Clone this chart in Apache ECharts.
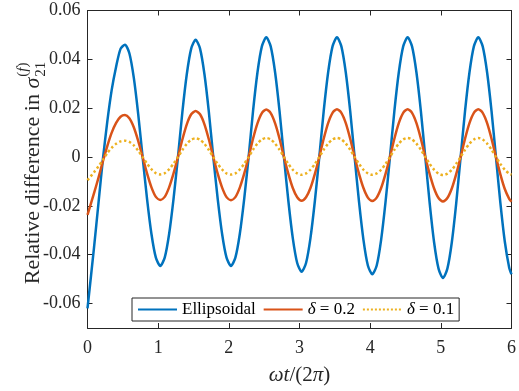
<!DOCTYPE html>
<html>
<head>
<meta charset="utf-8">
<script src="https://cdn.jsdelivr.net/npm/echarts@6/dist/echarts.min.js"></script>
<style>
  html, body { margin: 0; padding: 0; background: #ffffff; }
  #chart { width: 519px; height: 391px; }
</style>
</head>
<body>
<div id="chart"></div>
<script>
// Time in periods, omega t / (2 pi)
const timePoints = [
  0, 0.0925, 0.155, 0.2175, 0.28, 0.3425, 0.405, 0.4675, 0.53, 0.5925, 0.655, 0.7175, 0.78, 0.8425, 0.905, 0.9675,
  1.03, 1.0925, 1.155, 1.2175, 1.28, 1.3425, 1.405, 1.4675, 1.53, 1.5925, 1.655, 1.7175, 1.78, 1.8425, 1.905, 1.9675,
  2.03, 2.0925, 2.155, 2.2175, 2.28, 2.3425, 2.405, 2.4675, 2.53, 2.5925, 2.655, 2.7175, 2.78, 2.8425, 2.905, 2.9675,
  3.03, 3.0925, 3.155, 3.2175, 3.28, 3.3425, 3.405, 3.4675, 3.53, 3.5925, 3.655, 3.7175, 3.78, 3.8425, 3.905, 3.9675,
  4.03, 4.0925, 4.155, 4.2175, 4.28, 4.3425, 4.405, 4.4675, 4.53, 4.5925, 4.655, 4.7175, 4.78, 4.8425, 4.905, 4.9675,
  5.03, 5.0925, 5.155, 5.2175, 5.28, 5.3425, 5.405, 5.4675, 5.53, 5.5925, 5.655, 5.7175, 5.78, 5.8425, 5.905, 5.9675,
  6.0
];

// Relative difference, ellipsoidal model
const ellipsoidal = [
  -0.062, -0.037, -0.019, -0.001, 0.0145, 0.0275, 0.037, 0.0443, 0.046, 0.0425, 0.0325, 0.0176, 0, -0.0171, -0.0315, -0.0412,
  -0.0446, -0.0412, -0.0315, -0.0171, 0, 0.0184, 0.0339, 0.0444, 0.048, 0.0444, 0.0339, 0.0184, 0, -0.0171, -0.0315, -0.0412,
  -0.0446, -0.0412, -0.0315, -0.0171, 0, 0.0188, 0.0346, 0.0453, 0.049, 0.0453, 0.0346, 0.0188, 0, -0.0180, -0.0332, -0.0434,
  -0.047, -0.0434, -0.0332, -0.0180, 0, 0.0188, 0.0346, 0.0453, 0.049, 0.0453, 0.0346, 0.0188, 0, -0.0184, -0.0339, -0.0444,
  -0.048, -0.0444, -0.0339, -0.0184, 0, 0.0188, 0.0346, 0.0453, 0.049, 0.0453, 0.0346, 0.0188, 0, -0.0190, -0.0350, -0.0457,
  -0.0495, -0.0457, -0.0350, -0.0190, 0, 0.0188, 0.0346, 0.0453, 0.049, 0.0453, 0.0346, 0.0188, 0, -0.0188, -0.0346, -0.0453,
  -0.048
];

// Relative difference, delta = 0.2
const delta02 = [
  -0.0237, -0.0148, -0.0085, -0.0018, 0.0045, 0.0100, 0.0140, 0.0165, 0.0172, 0.0159, 0.0122, 0.0066, 0, -0.0067, -0.0124, -0.0163,
  -0.0176, -0.0163, -0.0124, -0.0067, 0, 0.0072, 0.0134, 0.0175, 0.0189, 0.0175, 0.0134, 0.0072, 0, -0.0068, -0.0125, -0.0164,
  -0.0177, -0.0164, -0.0125, -0.0068, 0, 0.0075, 0.0138, 0.0180, 0.0195, 0.0180, 0.0138, 0.0075, 0, -0.0069, -0.0127, -0.0165,
  -0.0179, -0.0165, -0.0127, -0.0069, 0, 0.0075, 0.0139, 0.0181, 0.0196, 0.0181, 0.0139, 0.0075, 0, -0.0069, -0.0127, -0.0166,
  -0.0180, -0.0166, -0.0127, -0.0069, 0, 0.0075, 0.0139, 0.0181, 0.0196, 0.0181, 0.0139, 0.0075, 0, -0.0070, -0.0129, -0.0168,
  -0.0182, -0.0168, -0.0129, -0.0070, 0, 0.0075, 0.0139, 0.0181, 0.0196, 0.0181, 0.0139, 0.0075, 0, -0.0071, -0.0131, -0.0171,
  -0.0183
];

// Relative difference, delta = 0.1
const delta01 = [
  -0.0095, -0.0062, -0.0038, -0.0012, 0.0016, 0.0038, 0.0054, 0.0064, 0.0067, 0.0062, 0.0048, 0.0026, 0, -0.0027, -0.0050, -0.0066,
  -0.0071, -0.0066, -0.0050, -0.0027, 0, 0.0029, 0.0054, 0.0071, 0.0077, 0.0071, 0.0054, 0.0029, 0, -0.0028, -0.0051, -0.0067,
  -0.0072, -0.0067, -0.0051, -0.0028, 0, 0.0030, 0.0055, 0.0072, 0.0078, 0.0072, 0.0055, 0.0030, 0, -0.0028, -0.0052, -0.0067,
  -0.0073, -0.0067, -0.0052, -0.0028, 0, 0.0030, 0.0055, 0.0072, 0.0078, 0.0072, 0.0055, 0.0030, 0, -0.0028, -0.0052, -0.0067,
  -0.0073, -0.0067, -0.0052, -0.0028, 0, 0.0030, 0.0055, 0.0072, 0.0078, 0.0072, 0.0055, 0.0030, 0, -0.0028, -0.0052, -0.0068,
  -0.0074, -0.0068, -0.0052, -0.0028, 0, 0.0030, 0.0055, 0.0072, 0.0078, 0.0072, 0.0055, 0.0030, 0, -0.0028, -0.0052, -0.0068,
  -0.0072
];

const seriesNames = ['Ellipsoidal', 'δ = 0.2', 'δ = 0.1'];
const yTickValues = [-0.06, -0.04, -0.02, 0, 0.02, 0.04, 0.06];
const xMin = 0, xMax = 6, xStep = 1;
const yMin = -0.07, yMax = 0.06, yStep = 0.01;

const SERIF = '"Liberation Serif", "DejaVu Serif", serif';
const AXIS_COLOR = '#262626';
const colors = ['#0072BD', '#D95319', '#EDB120'];

const chart = echarts.init(document.getElementById('chart'), null, { renderer: 'canvas' });

function pairs(values) {
  return timePoints.map((t, i) => [t, values[i]]);
}

function fmtY(v) {
  if (Math.abs(v) < 1e-12) return '0';
  return v.toFixed(2);
}

// Y axis title, composed of pieces so that sub/superscripts sit correctly
const measureCtx = document.createElement('canvas').getContext('2d');
function textWidth(text, font) {
  measureCtx.font = font;
  return measureCtx.measureText(text).width;
}
const titleSize = 22;
const scriptSize = 15;
const mainText = 'Relative difference in ';
const wMain = textWidth(mainText, titleSize + 'px ' + SERIF);
const wSigma = textWidth('σ', 'italic ' + titleSize + 'px ' + SERIF);
const wSup = textWidth('(f)', scriptSize + 'px ' + SERIF);
const wSub = textWidth('21', scriptSize + 'px ' + SERIF);
const totalTitle = wMain + wSigma + Math.max(wSup, wSub) + 1;
const x0 = -totalTitle / 2;

const option = {
  animation: false,
  backgroundColor: '#ffffff',
  color: colors,
  grid: { left: 87.5, right: 1.5, top: 10.5, bottom: 59, containLabel: false },
  xAxis: [
    {
      type: 'value', min: xMin, max: xMax, interval: xStep, position: 'bottom',
      axisLine: { show: true, onZero: false, lineStyle: { color: AXIS_COLOR, width: 1 } },
      axisTick: { show: true, inside: true, length: 5, lineStyle: { color: AXIS_COLOR, width: 1 } },
      axisLabel: { show: true, margin: 11, fontFamily: SERIF, fontSize: 18, color: AXIS_COLOR,
                   formatter: v => String(v) },
      splitLine: { show: false },
      name: '{i|ω}{i|t}/(2{i|π})',
      nameLocation: 'middle',
      nameGap: 37,
      nameTextStyle: {
        fontFamily: SERIF, fontSize: 21, color: AXIS_COLOR,
        rich: { i: { fontFamily: SERIF, fontSize: 21, fontStyle: 'italic', color: AXIS_COLOR } }
      }
    },
    {
      type: 'value', min: xMin, max: xMax, interval: xStep, position: 'top',
      axisLine: { show: true, onZero: false, lineStyle: { color: AXIS_COLOR, width: 1 } },
      axisTick: { show: true, inside: true, length: 5, lineStyle: { color: AXIS_COLOR, width: 1 } },
      axisLabel: { show: false },
      splitLine: { show: false }
    }
  ],
  yAxis: [
    {
      type: 'value', min: yMin, max: yMax, interval: yStep, position: 'left',
      axisLine: { show: true, onZero: false, lineStyle: { color: AXIS_COLOR, width: 1 } },
      axisTick: { show: true, inside: true, length: 5, customValues: yTickValues,
                  lineStyle: { color: AXIS_COLOR, width: 1 } },
      axisLabel: { show: true, margin: 7, fontFamily: SERIF, fontSize: 18, color: AXIS_COLOR,
                   customValues: yTickValues, formatter: fmtY },
      splitLine: { show: false }
    },
    {
      type: 'value', min: yMin, max: yMax, interval: yStep, position: 'right',
      axisLine: { show: true, onZero: false, lineStyle: { color: AXIS_COLOR, width: 1 } },
      axisTick: { show: true, inside: true, length: 5, customValues: yTickValues,
                  lineStyle: { color: AXIS_COLOR, width: 1 } },
      axisLabel: { show: false },
      splitLine: { show: false }
    }
  ],
  legend: {
    data: seriesNames,
    left: 132, top: 298,
    orient: 'horizontal',
    padding: [3, 5, 3, 5],
    itemGap: 7,
    itemWidth: 39,
    itemHeight: 14,
    borderColor: AXIS_COLOR,
    borderWidth: 1,
    borderRadius: 0,
    backgroundColor: '#ffffff',
    itemStyle: { opacity: 0 },
    selectedMode: false,
    formatter: name => name.replace('δ', '{i|δ}'),
    textStyle: {
      fontFamily: SERIF, fontSize: 17, color: '#000000',
      rich: { i: { fontFamily: SERIF, fontSize: 17, fontStyle: 'italic', color: '#000000' } }
    }
  },
  graphic: [
    {
      type: 'group',
      x: 33, y: 173,
      rotation: Math.PI / 2,
      children: [
        { type: 'text', x: x0, y: 0,
          style: { text: mainText, font: titleSize + 'px ' + SERIF, fill: AXIS_COLOR,
                   align: 'left', verticalAlign: 'middle' } },
        { type: 'text', x: x0 + wMain, y: 0,
          style: { text: 'σ', font: 'italic ' + titleSize + 'px ' + SERIF, fill: AXIS_COLOR,
                   align: 'left', verticalAlign: 'middle' } },
        { type: 'text', x: x0 + wMain + wSigma + 1, y: -10,
          style: { text: '({i|f})', font: scriptSize + 'px ' + SERIF, fill: AXIS_COLOR,
                   align: 'left', verticalAlign: 'middle',
                   rich: { i: { font: 'italic ' + scriptSize + 'px ' + SERIF, fill: AXIS_COLOR } } } },
        { type: 'text', x: x0 + wMain + wSigma + 1, y: 8,
          style: { text: '21', font: scriptSize + 'px ' + SERIF, fill: AXIS_COLOR,
                   align: 'left', verticalAlign: 'middle' } }
      ]
    }
  ],
  series: [
    {
      name: seriesNames[0], type: 'line', xAxisIndex: 0, yAxisIndex: 0,
      data: pairs(ellipsoidal), smooth: 0.25, symbol: 'none', showSymbol: false,
      lineStyle: { width: 2.5, color: colors[0], join: 'round' }, z: 2
    },
    {
      name: seriesNames[1], type: 'line', xAxisIndex: 0, yAxisIndex: 0,
      data: pairs(delta02), smooth: 0.25, symbol: 'none', showSymbol: false,
      lineStyle: { width: 2.5, color: colors[1], join: 'round' }, z: 3
    },
    {
      name: seriesNames[2], type: 'line', xAxisIndex: 0, yAxisIndex: 0,
      data: pairs(delta01), smooth: 0.25, symbol: 'none', showSymbol: false,
      lineStyle: { width: 2.5, color: colors[2], type: 'dotted' }, z: 4
    }
  ]
};

chart.setOption(option);
</script>
</body>
</html>
